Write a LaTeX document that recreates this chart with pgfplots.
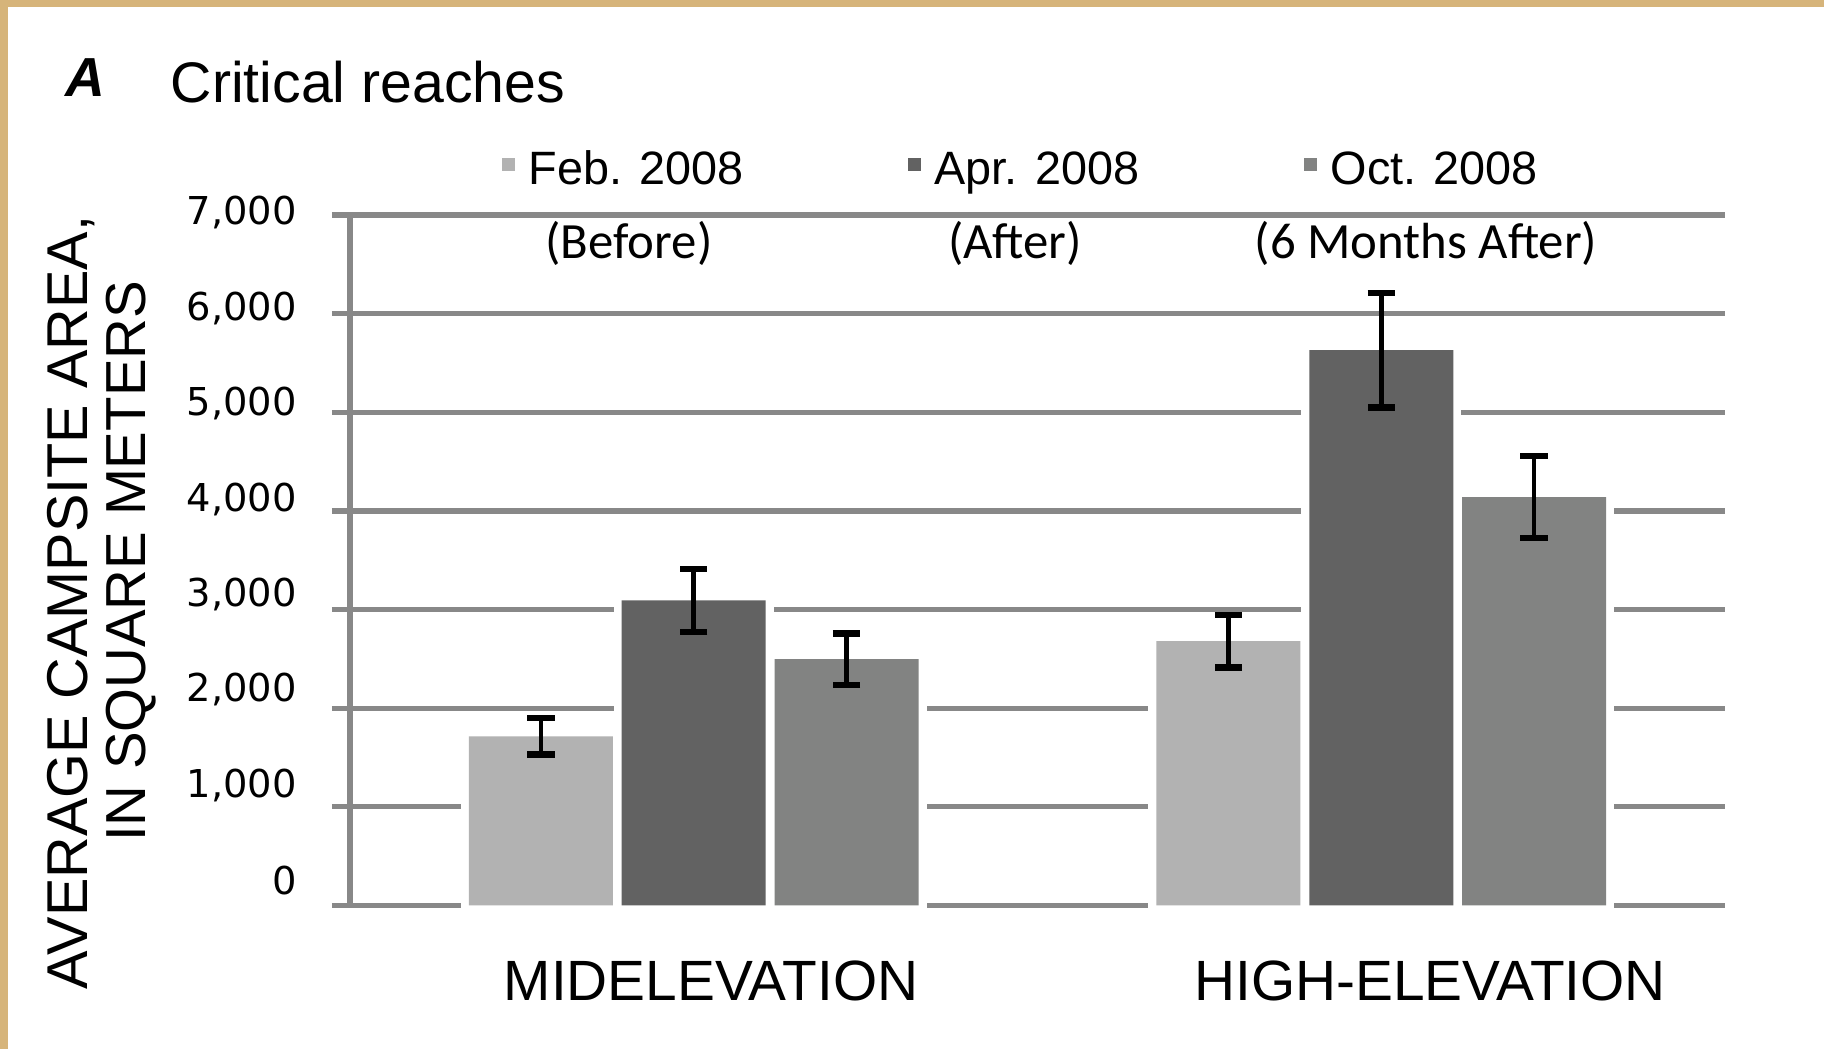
\documentclass[border=0pt]{standalone}
\usepackage{pgfplots}
\pgfplotsset{compat=1.18}
\usepackage{pgfplotstable}
\usepackage{fontspec}
\setmainfont{Liberation Sans}
\newfontfamily\tickfont{DejaVu Sans}
\newfontfamily\calib{Carlito}
\definecolor{tanb}{RGB}{214,180,122}
\definecolor{gridg}{RGB}{136,136,136}
\definecolor{cfeb}{RGB}{178,178,178}
\definecolor{capr}{RGB}{98,98,98}
\definecolor{coct}{RGB}{130,131,130}

% x: category position (0 = midelevation, 1 = high-elevation) with the bar's offset in its group
\pgfplotstableread{
x y e
-0.2222 1715 184
0.7778 2680 268
}\feb
\pgfplotstableread{
x y e
0 3092 318
1 5630 580
}\apr
\pgfplotstableread{
x y e
0.2222 2497 262
1.2222 4140 415
}\oct

\begin{document}
\begin{tikzpicture}[x=1pt,y=1pt]
\useasboundingbox (0,0) rectangle (456,262.25);
\fill[white] (0,0) rectangle (456,262.25);
\fill[tanb] (0,0) rectangle (2,262.25);
\fill[tanb] (0,260.5) rectangle (456,262.25);
\begin{axis}[
  at={(87.5pt,35.875pt)}, anchor=south west,
  scale only axis, width=343.75pt, height=172.625pt,
  xmin=-0.5, xmax=1.5, ymin=0, ymax=7000,
  clip=false,
  axis y line*=left, axis x line*=bottom,
  x axis line style={draw=none},
  y axis line style={draw=gridg, line width=1.4pt},
  xtick={0,1},
  xticklabels={\hspace*{8.6pt}MIDELEVATION, \hspace*{24.4pt}HIGH-ELEVATION},
  x tick style={draw=none},
  xticklabel style={font=\fontsize{14.2}{16}\selectfont, anchor=base, inner sep=0pt, yshift=-19.3pt},
  ytick={0,1000,...,7000},
  ymajorgrids, grid style={draw=gridg, line width=1.3pt},
  y tick style={draw=gridg, line width=1.3pt},
  major tick length=4.5pt, tick align=outside,
  scaled y ticks=false,
  yticklabel style={font=\tickfont\fontsize{9.6}{11}\selectfont, anchor=east, inner sep=0pt, xshift=-8.6pt, yshift=6.2pt-0.81pt*\ticknum},
  /pgf/number format/1000 sep={,},
  /pgf/number format/assume math mode=true,
  legend columns=3,
  legend style={draw=none, fill=none, at={(0.1100,1.0637)}, anchor=west,
    font=\fontsize{11.7}{14}\selectfont, inner sep=0pt,
    nodes={inner sep=0pt},
    cells={anchor=base west},
    /tikz/every odd column/.append style={column sep=3.4pt},
    /tikz/every even column/.append style={column sep=41.2pt}},
]
% white surrounds of the bars (break the grid lines round each bar)
\addplot[ybar, forget plot, bar width=36pt, bar shift=0pt, fill=white, draw=white, line width=4pt]
  table[x=x, y=y] {\feb};
\addplot[ybar, forget plot, bar width=36pt, bar shift=0pt, fill=white, draw=white, line width=4pt]
  table[x=x, y=y] {\apr};
\addplot[ybar, forget plot, bar width=36pt, bar shift=0pt, fill=white, draw=white, line width=4pt]
  table[x=x, y=y] {\oct};
% the bars
\addplot[ybar, bar width=36pt, bar shift=0pt, fill=cfeb, draw=none,
  error bars/.cd, y dir=both, y explicit,
  error bar style={draw=black, line width=1.2pt},
  error mark options={rotate=90, mark size=3.4pt, line width=1.6pt, draw=black},
  /pgfplots/legend image code/.code={\fill[cfeb] (-0.6pt,3.6pt) rectangle (2.6pt,6.8pt);}]
  table[x=x, y=y, y error=e] {\feb};
\addplot[ybar, bar width=36pt, bar shift=0pt, fill=capr, draw=none,
  error bars/.cd, y dir=both, y explicit,
  error bar style={draw=black, line width=1.2pt},
  error mark options={rotate=90, mark size=3.4pt, line width=1.6pt, draw=black},
  /pgfplots/legend image code/.code={\fill[capr] (-0.6pt,3.6pt) rectangle (2.6pt,6.8pt);}]
  table[x=x, y=y, y error=e] {\apr};
\addplot[ybar, bar width=36pt, bar shift=0pt, fill=coct, draw=none,
  error bars/.cd, y dir=both, y explicit,
  error bar style={draw=black, line width=1.2pt},
  error mark options={rotate=90, mark size=3.4pt, line width=1.6pt, draw=black},
  /pgfplots/legend image code/.code={\fill[coct] (-0.6pt,3.6pt) rectangle (2.6pt,6.8pt);}]
  table[x=x, y=y, y error=e] {\oct};
\legend{Feb. 2008, Apr. 2008, Oct. 2008}
\end{axis}
\node[font=\calib\fontsize{12.7}{14}\selectfont] at (157.25,201.3) {(Before)};
\node[font=\calib\fontsize{12.7}{14}\selectfont] at (253.75,201.3) {(After)};
\node[font=\calib\fontsize{12.7}{14}\selectfont] at (356.5,201.3) {(6 Months After)};
\node[anchor=base west, font=\bfseries\itshape\fontsize{13.75}{16}\selectfont, inner sep=0pt] at (16.1,238) {A};
\node[anchor=base west, font=\fontsize{14.3}{16}\selectfont, inner sep=0pt] at (42.5,236.6) {Critical reaches};
\node[rotate=90, anchor=base, font=\fontsize{14.4}{16}\selectfont, inner sep=0pt] at (21.75,111.6) {AVERAGE CAMPSITE AREA,};
\node[rotate=90, anchor=base, font=\fontsize{14.1}{16}\selectfont, inner sep=0pt] at (36.35,121.9) {IN SQUARE METERS};
\end{tikzpicture}
\end{document}
